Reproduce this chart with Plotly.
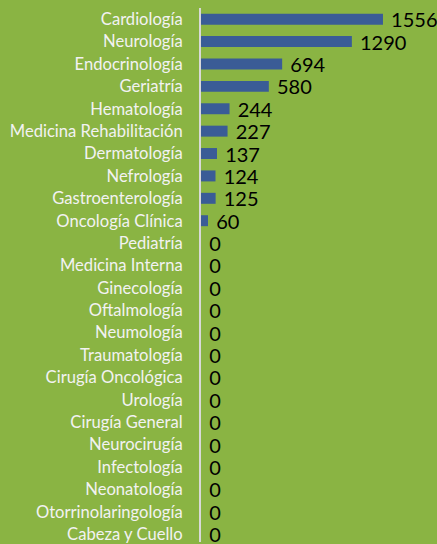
import plotly.graph_objects as go

especialidades = [
    "Cardiología", "Neurología", "Endocrinología", "Geriatría", "Hematología",
    "Medicina Rehabilitación", "Dermatología", "Nefrología", "Gastroenterología",
    "Oncología Clínica", "Pediatría", "Medicina Interna", "Ginecología",
    "Oftalmología", "Neumología", "Traumatología", "Cirugía Oncológica",
    "Urología", "Cirugía General", "Neurocirugía", "Infectología",
    "Neonatología", "Otorrinolaringología", "Cabeza y Cuello",
]
casos = [1556, 1290, 694, 580, 244, 227, 137, 124, 125, 60,
         0, 0, 0, 0, 0, 0, 0, 0, 0, 0, 0, 0, 0, 0]

fig = go.Figure(go.Bar(
    x=casos, y=especialidades, orientation="h",
    marker=dict(color="#3A5C96", line=dict(width=0)),
    text=[" " + str(v) for v in casos], textposition="outside",
    textfont=dict(family="Lato", size=20, color="#000000"),
    constraintext="none", cliponaxis=False,
))

fig.update_layout(
    width=437, height=544, margin=dict(t=8, b=0, l=201, r=0),
    paper_bgcolor="#8AB443", plot_bgcolor="#8AB443",
    bargap=0.51, showlegend=False,
    xaxis=dict(range=[0, 2018], visible=False, showgrid=False, zeroline=False),
    yaxis=dict(range=[23.35, -0.5], showgrid=False, zeroline=False,
               showline=True, linecolor="#D9D9D9", linewidth=2,
               ticks="", ticklabelstandoff=13,
               tickfont=dict(family="Lato", size=16.6, color="#F2F2F2")),
)

# quitar el margen del body para que el gráfico ocupe toda la ventana
fig.write_html("out.html", config={"displayModeBar": False},
               post_script="document.body.style.margin='0';document.body.style.overflow='hidden';")
